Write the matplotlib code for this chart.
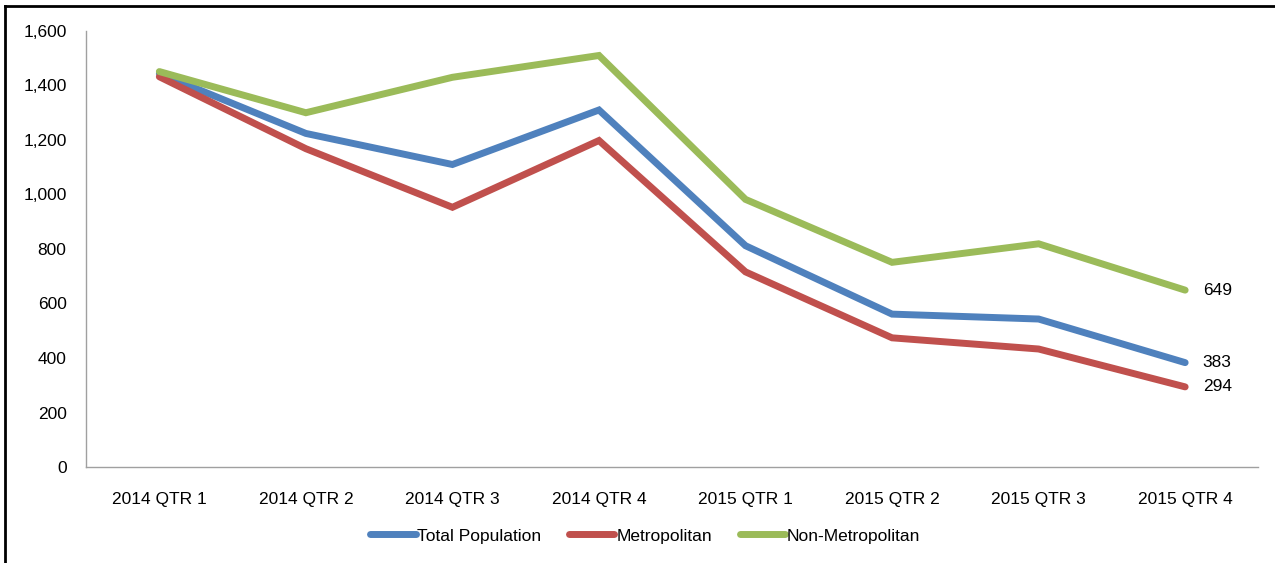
import matplotlib
matplotlib.use('Agg')
import matplotlib.pyplot as plt
from matplotlib.ticker import FuncFormatter
from matplotlib.lines import Line2D

quarters = ['2014 QTR 1', '2014 QTR 2', '2014 QTR 3', '2014 QTR 4',
            '2015 QTR 1', '2015 QTR 2', '2015 QTR 3', '2015 QTR 4']
total_pop = [1444, 1224, 1110, 1310, 812, 561, 543, 383]
metro = [1432, 1168, 953, 1198, 716, 474, 433, 294]
non_metro = [1451, 1300, 1430, 1510, 982, 751, 819, 649]

series = [('Total Population', total_pop, '#4F81BD'),
          ('Metropolitan', metro, '#C0504D'),
          ('Non-Metropolitan', non_metro, '#9BBB59')]

plt.rcParams['font.family'] = ['Liberation Sans Narrow', 'Liberation Sans', 'DejaVu Sans']

fig = plt.figure(figsize=(12.75, 5.63), dpi=100)
ax = fig.add_axes([0.0675, 0.1705, 0.9195, 0.7745])

x = list(range(len(quarters)))
for name, vals, col in series:
    ax.plot(x, vals, color=col, linewidth=5, solid_capstyle='round',
            solid_joinstyle='miter', label=name)
    ax.text(x[-1] + 0.12, vals[-1], str(vals[-1]), va='center', ha='left', fontsize=12.5)

ax.set_xlim(-0.5, 7.5)
ax.set_ylim(0, 1600)
ax.set_yticks(range(0, 1601, 200))
ax.yaxis.set_major_formatter(FuncFormatter(lambda v, p: '{:,.0f}'.format(v)))
ax.set_xticks(x)
ax.set_xticklabels(quarters)
ax.tick_params(axis='both', length=0, labelsize=12.5)
ax.tick_params(axis='x', pad=18)
ax.tick_params(axis='y', pad=14)

for s in ['top', 'right']:
    ax.spines[s].set_visible(False)
for s in ['left', 'bottom']:
    ax.spines[s].set_color('#A0A0A0')
    ax.spines[s].set_linewidth(1)

handles = [Line2D([0], [0], color=c, linewidth=5, solid_capstyle='round') for _, _, c in series]
fig.legend(handles, [n for n, _, _ in series], loc='center', bbox_to_anchor=(0.506, 0.048),
           ncol=3, frameon=False, fontsize=12.5, handlelength=2.6, handletextpad=0.1,
           columnspacing=1.6)

# outer frame (left and top edges)
fig.add_artist(Line2D([0.004, 0.004], [0, 0.99], transform=fig.transFigure, color='black', linewidth=2))
fig.add_artist(Line2D([0.004, 1.0], [0.99, 0.99], transform=fig.transFigure, color='black', linewidth=2))

fig.savefig('out.png', dpi=100)
